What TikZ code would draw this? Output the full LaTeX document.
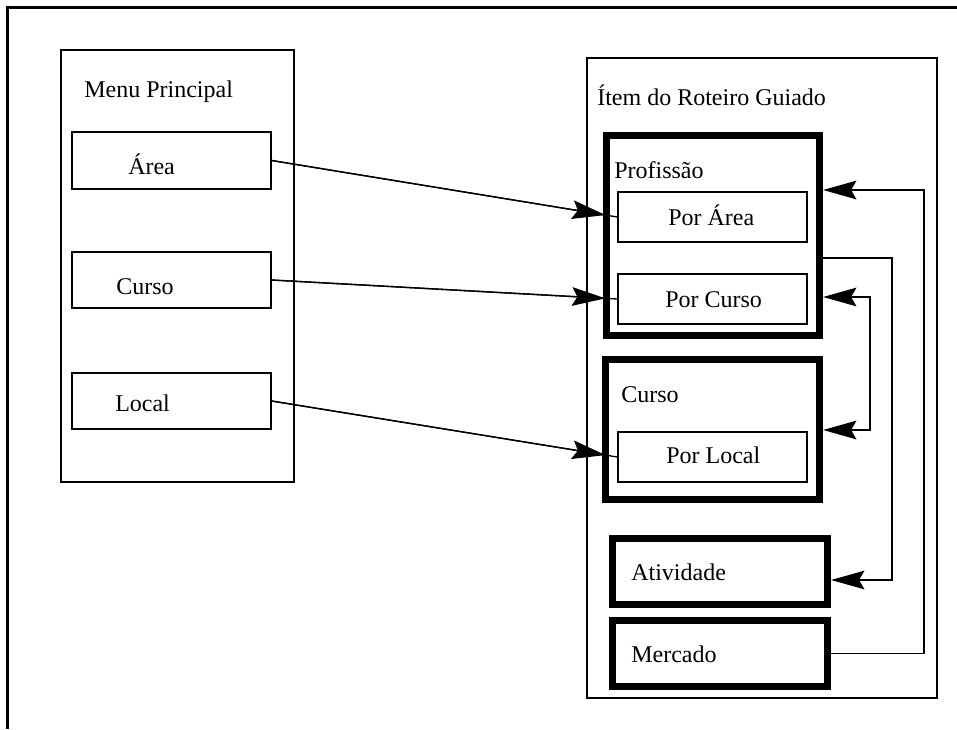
\documentclass[tikz,border=0pt]{standalone}
\usepackage{fontspec}
\setmainfont{Liberation Serif}
\usetikzlibrary{arrows.meta,fit,calc}
\begin{document}
\begin{tikzpicture}[x=0.75pt,y=-0.75pt,
  frameline/.style={line width=2.25pt},
  panel/.style={draw, line width=1pt, inner sep=0pt},
  itembox/.style={draw, line width=1pt, inner sep=0pt},
  groupbox/.style={draw, line width=5.4pt, inner sep=0pt},
  lbl/.style={anchor=base west, inner sep=0pt, font=\fontsize{18}{21}\selectfont},
  link/.style={line width=1pt},
  tip/.style={-{Stealth[length=25pt,width=14pt,inset=4pt]}},
  tips/.style={{Stealth[length=25pt,width=14pt,inset=4pt]}-{Stealth[length=25pt,width=14pt,inset=4pt]}}
]
\useasboundingbox (0,0) rectangle (957,729);

% page frame (top and left edges)
\draw[frameline] (957,7.5) -- (7.5,7.5) -- (7.5,729);

% main menu panel
\node[panel, fit={(61,50) (294,482)}] (menu) {};
\node[lbl] (menuT) at (84,97) {Menu Principal};
\node[itembox, fit={(72,132) (271,189)}] (area) {};
\node[lbl] (areaT) at (128,174) {Área};
\node[itembox, fit={(72,252) (271,308)}] (curso) {};
\node[lbl] (cursoT) at (116,294) {Curso};
\node[itembox, fit={(72,373) (271,429)}] (local) {};
\node[lbl] (localT) at (115,411) {Local};

% guided itinerary panel
\node[panel, fit={(587,58) (937,698)}] (roteiro) {};
\node[lbl] (roteiroT) at (597,105) {Ítem do Roteiro Guiado};

\node[groupbox, fit={(606.5,135.5) (819.5,335.5)}] (profissao) {};
\node[lbl] (profissaoT) at (614,178) {Profissão};
\node[itembox, fit={(618,192) (807,242)}] (porArea) {};
\node[lbl] (porAreaT) at (668,225) {Por Área};
\node[itembox, fit={(618,274) (807,324)}] (porCurso) {};
\node[lbl] (porCursoT) at (665,307) {Por Curso};

\node[groupbox, fit={(605.5,359.5) (819.5,499.5)}] (cursoG) {};
\node[lbl] (cursoGT) at (621,402) {Curso};
\node[itembox, fit={(618,432) (807,482)}] (porLocal) {};
\node[lbl] (porLocalT) at (666,463) {Por Local};

\node[groupbox, fit={(612.5,538.5) (827.5,604.5)}] (atividade) {};
\node[lbl] (atividadeT) at (631,580) {Atividade};
\node[groupbox, fit={(612.5,620.5) (827.5,686.5)}] (mercado) {};
\node[lbl] (mercadoT) at (631,662) {Mercado};

% menu entries to their items
\foreach \src/\dst in {area/porArea, curso/porCurso, local/porLocal}{
  \draw[link] (\src.east) -- (\dst.west);
  \draw[link, tip, shorten >=9pt] (\src.east) -- (\dst.west);
}

% routing on the right side
\coordinate (mTurn) at (924,190);
\draw[link, tip] (mercado.east) -| (mTurn) -- (mTurn -| profissao.east);

\coordinate (pTurn) at (892,258);
\coordinate (aTurn) at (892,580);
\draw[link, tip] (pTurn -| profissao.east) -- (pTurn) -- (aTurn) -- (aTurn -| atividade.east);

\coordinate (cTop) at (870,297);
\coordinate (cBot) at (870,430);
\draw[link, tips] (cTop -| profissao.east) -- (cTop) -- (cBot) -- (cBot -| cursoG.east);
\end{tikzpicture}
\end{document}
